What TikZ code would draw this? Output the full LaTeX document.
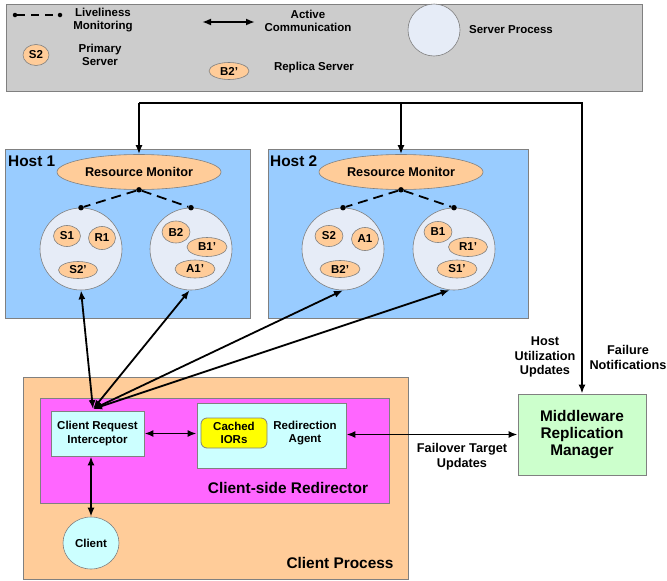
\documentclass[tikz,border=0pt]{standalone}
\usepackage{fontspec}
\setmainfont{Liberation Sans}
\usetikzlibrary{shapes.geometric,arrows.meta}
\definecolor{lgray}{HTML}{CCCCCC}
\definecolor{bgray}{HTML}{808080}
\definecolor{hostblue}{HTML}{99CCFF}
\definecolor{peach}{HTML}{FFCC99}
\definecolor{procblue}{HTML}{E6ECF7}
\definecolor{redirmag}{HTML}{FF66FF}
\definecolor{lcyan}{HTML}{CCFFFF}
\definecolor{lgreen}{HTML}{CCFFCC}
\definecolor{yell}{HTML}{FFFF00}
\begin{document}
\begin{tikzpicture}[x=1pt,y=-1pt,
 fs/.style={font=\bfseries\fontsize{11.5}{13.5}\selectfont, align=center, inner sep=0},
 fm/.style={font=\bfseries\fontsize{12.7}{14.5}\selectfont, align=center, inner sep=0},
 fl/.style={font=\bfseries\fontsize{15.4}{16.7}\selectfont, align=center, inner sep=0},
 box/.style={rectangle, draw=bgray, line width=0.8pt, anchor=north west, inner sep=0},
 srv/.style={ellipse, draw=bgray, line width=0.6pt, fill=peach, inner sep=0, fs},
 proc/.style={circle, draw=bgray, line width=0.6pt, fill=procblue, minimum size=82pt, inner sep=0},
 arr/.style={line width=1.8pt, -{Latex[length=9pt,width=7pt]}},
 darr/.style={line width=1.8pt, {Latex[length=9pt,width=7pt]}-{Latex[length=9pt,width=7pt]}},
 live/.style={line width=1.8pt, dash pattern=on 10pt off 6pt},
 dot/.style={circle, fill=black, inner sep=0, minimum size=5.5pt},
]
\useasboundingbox (0,0) rectangle (667,581);

% ---------------- legend ----------------
\node[box, fill=lgray, minimum width=636pt, minimum height=87pt] (legend) at (6,4) {};
\node[dot, minimum size=4.5pt] (lgd1) at (15,15) {};
\node[dot, minimum size=4.5pt] (lgd2) at (60,15) {};
\draw[line width=1.6pt, dash pattern=on 8pt off 6pt] (lgd1) -- (lgd2);
\node[fs] (lgLive) at (103,20) {Liveliness\\Monitoring};
\node[srv, minimum width=26pt, minimum height=21pt] (lgS) at (36,55) {S2};
\node[fs] (lgPrim) at (100,55) {Primary\\Server};
\coordinate (lga1) at (202,22);
\coordinate (lga2) at (255,22);
\draw[darr] (lga1) -- (lga2);
\node[fs] (lgAct) at (308,21) {Active\\Communication};
\node[srv, minimum width=40pt, minimum height=17pt] (lgB) at (229,71) {B2'};
\node[fs] (lgRep) at (314,68) {Replica Server};
\node[proc, minimum size=52pt] (lgProc) at (434,30) {};
\node[fs] (lgSP) at (511,30) {Server Process};

% ---------------- hosts ----------------
\node[box, fill=hostblue, minimum width=245pt, minimum height=169pt] (host1) at (5,149) {};
\node[box, fill=hostblue, minimum width=260pt, minimum height=169pt] (host2) at (268,149) {};
\node[fl, anchor=west] (h1lbl) at (8,161) {Host 1};
\node[fl, anchor=west] (h2lbl) at (270,161) {Host 2};

\node[ellipse, draw=bgray, line width=0.6pt, fill=peach, inner sep=0, minimum width=164pt, minimum height=35pt, fm] (rm1) at (139,172) {Resource Monitor};
\node[ellipse, draw=bgray, line width=0.6pt, fill=peach, inner sep=0, minimum width=164pt, minimum height=35pt, fm] (rm2) at (401,172) {Resource Monitor};

\node[proc] (c1a) at (81,249) {};
\node[proc] (c1b) at (191,249) {};
\node[proc] (c2a) at (343,249) {};
\node[proc] (c2b) at (454,249) {};

\node[srv, minimum width=27pt, minimum height=21pt] (s1) at (67,236) {S1};
\node[srv, minimum width=27pt, minimum height=23pt] (r1) at (102,238) {R1};
\node[srv, minimum width=39pt, minimum height=17pt] (s2p) at (78,270) {S2'};
\node[srv, minimum width=28pt, minimum height=22pt] (b2) at (176,232) {B2};
\node[srv, minimum width=40pt, minimum height=19pt] (b1p) at (207,247) {B1'};
\node[srv, minimum width=40pt, minimum height=18pt] (a1p) at (195,269) {A1'};

\node[srv, minimum width=28pt, minimum height=21pt] (s2) at (329,236) {S2};
\node[srv, minimum width=27pt, minimum height=23pt] (a1) at (365,239) {A1};
\node[srv, minimum width=40pt, minimum height=17pt] (b2p) at (340,269) {B2'};
\node[srv, minimum width=28pt, minimum height=21pt] (b1) at (438,232) {B1};
\node[srv, minimum width=39pt, minimum height=19pt] (r1p) at (468,247) {R1'};
\node[srv, minimum width=40pt, minimum height=18pt] (s1p) at (457,269) {S1'};

% liveliness monitoring
\node[dot] (d1) at (rm1.south) {};
\node[dot] (d1a) at (c1a.north) {};
\node[dot] (d1b) at (c1b.north) {};
\node[dot] (d2) at (rm2.south) {};
\node[dot] (d2a) at (c2a.north) {};
\node[dot] (d2b) at (c2b.north) {};
\draw[live] (d1) -- (d1a);
\draw[live] (d1) -- (d1b);
\draw[live] (d2) -- (d2a);
\draw[live] (d2) -- (d2b);

% ---------------- client process ----------------
\node[box, fill=peach, minimum width=385pt, minimum height=202pt] (cproc) at (23,377) {};
\node[box, fill=redirmag, minimum width=349pt, minimum height=105pt] (redir) at (40,398) {};
\node[rectangle, draw=bgray, line width=0.8pt, fill=lcyan, minimum width=93pt, minimum height=45pt, inner sep=0, fs] (cri) at (97.5,433.5) {Client Request\\Interceptor};
\node[rectangle, draw=bgray, line width=0.8pt, fill=lcyan, minimum width=149pt, minimum height=65pt, inner sep=0] (ra) at (271.5,435.5) {};
\node[rectangle, rounded corners=6pt, draw=bgray, line width=0.8pt, fill=yell, minimum width=66pt, minimum height=30pt, inner sep=0, fs] (ior) at (234,433) {Cached\\IORs};
\node[fs] (ralbl) at (305,433) {Redirection\\Agent};
\node[fl] (redirlbl) at (288,488) {Client-side Redirector};
\node[ellipse, draw=bgray, line width=0.6pt, fill=lcyan, minimum width=56pt, minimum height=52pt, inner sep=0, fs] (client) at (91,543) {Client};
\node[fl] (cproclbl) at (340,563) {Client Process};

% ---------------- replication manager ----------------
\node[rectangle, draw=bgray, line width=0.8pt, fill=lgreen, minimum width=128pt, minimum height=81pt, inner sep=0, fl] (mrm) at (582,434.5) {Middleware\\Replication\\Manager};
\node[fm] (hulbl) at (545,357) {Host\\Utilization\\Updates};
\node[fm] (fnlbl) at (628,357.5) {Failure\\Notifications};
\node[fm] (ftlbl) at (462,456.5) {Failover Target\\Updates};

% ---------------- connectors ----------------
\coordinate (topy) at (0,103);
\coordinate (j1) at (rm1.north |- topy);
\coordinate (j2) at (rm2.north |- topy);
\coordinate (j3) at (mrm.north |- topy);
\draw[arr] (j1) -- (rm1.north);
\draw[arr] (j2) -- (rm2.north);
\draw[arr, line join=miter] (j1) -- (j3) -- (mrm.north);

\coordinate (conv) at (93,409);
\draw[darr] (conv) -- (c1a.south);
\draw[darr] (conv) -- (c1b.268);
\draw[darr] (conv) -- (c2a.south);
\draw[darr] (conv) -- (c2b.264);

\draw[darr] (cri.east) -- (cri.east -| ra.west);
\draw[darr] (mrm.west -| ra.east) -- (mrm.west);
\draw[darr] (client.north |- cri.south) -- (client.north);
\end{tikzpicture}
\end{document}
